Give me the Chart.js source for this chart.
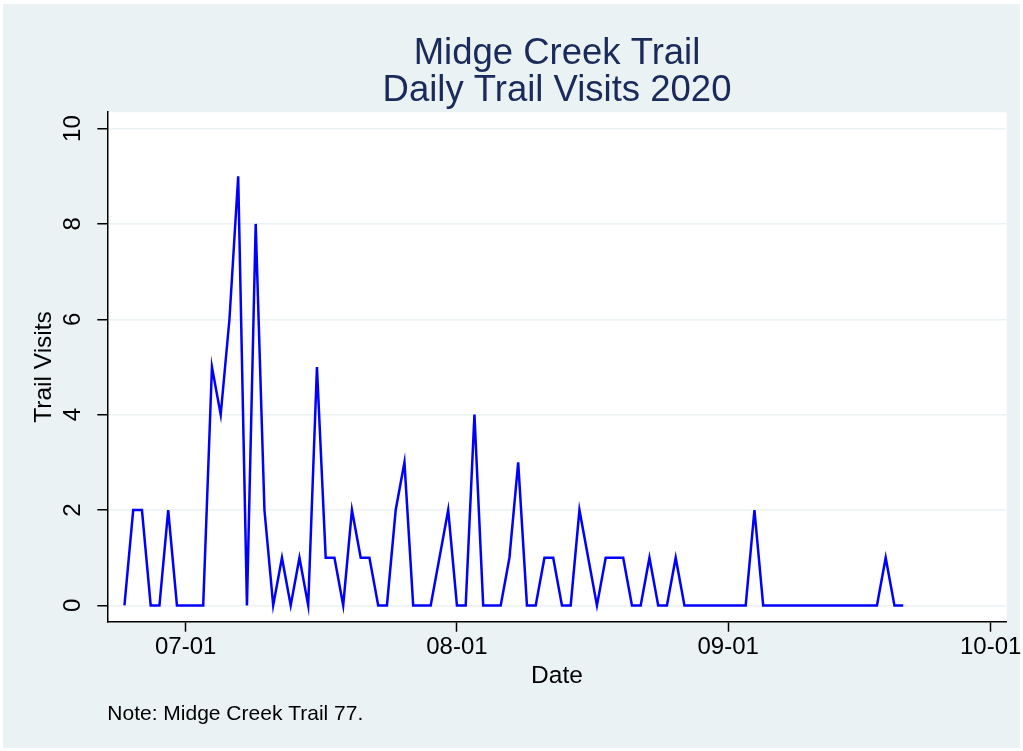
<!DOCTYPE html>
<html>
<head>
<meta charset="utf-8">
<title>Midge Creek Trail - Daily Trail Visits 2020</title>
<script src="https://cdn.jsdelivr.net/npm/chart.js@4"></script>
<style>
  html, body { margin: 0; padding: 0; background: #fff; }
  #frame { position: absolute; left: 3px; top: 4px; width: 1017px; height: 744px; background: #eaf2f3; }
  #wrap { position: absolute; left: 0; top: 0; width: 1023px; height: 751px; }
</style>
</head>
<body>
<div id="frame"></div>
<div id="wrap"><canvas id="chart" width="1023" height="751"></canvas></div>
<script>
// days are counted from 07-01 (= 0); first reading is 06-24
const firstDay = -7;
const visits = [
  // Jun 24 - Jun 30
  0, 2, 2, 0, 0, 2, 0,
  // Jul 1 - Jul 31
  0, 0, 0, 5, 4, 6, 9, 0, 8, 2, 0, 1, 0, 1, 0, 5, 1, 1, 0, 2, 1, 1, 0, 0, 2, 3, 0, 0, 0, 1, 2,
  // Aug 1 - Aug 31
  0, 0, 4, 0, 0, 0, 1, 3, 0, 0, 1, 1, 0, 0, 2, 1, 0, 1, 1, 1, 0, 0, 1, 0, 0, 1, 0, 0, 0, 0, 0,
  // Sep 1 - Sep 21
  0, 0, 0, 2, 0, 0, 0, 0, 0, 0, 0, 0, 0, 0, 0, 0, 0, 0, 1, 0, 0
];
const xTickDays = [0, 31, 62, 92];
const xTickLabels = ['07-01', '08-01', '09-01', '10-01'];
const yTicks = [0, 2, 4, 6, 8, 10];

const points = visits.map((v, i) => ({ x: firstDay + i, y: v }));

const fontFamily = '"Liberation Sans", Arial, sans-serif';

// white plot region like Stata's s2color scheme
const plotBg = {
  id: 'plotBg',
  beforeDraw(chart) {
    const { ctx, chartArea: a } = chart;
    ctx.save();
    ctx.fillStyle = '#ffffff';
    ctx.fillRect(a.left, a.top, a.right - a.left, a.bottom - a.top);
    ctx.restore();
  }
};

const config = {
  type: 'line',
  data: {
    datasets: [{
      label: 'Trail Visits',
      data: points,
      borderColor: '#0000ff',
      backgroundColor: '#0000ff',
      borderWidth: 2.5,
      pointRadius: 0,
      tension: 0,
      fill: false
    }]
  },
  options: {
    responsive: false,
    animation: false,
    devicePixelRatio: 1,
    layout: { padding: { left: 0, right: 16.3, top: 0, bottom: 0 } },
    plugins: {
      legend: { display: false },
      tooltip: { enabled: false },
      title: {
        display: true,
        fullSize: false,
        text: ['Midge Creek Trail', 'Daily Trail Visits 2020'],
        color: '#1a2a5a',
        font: { family: fontFamily, size: 36.5, weight: 'normal', lineHeight: 1.01 },
        padding: { top: 36, bottom: 2.5 }
      },
      subtitle: {
        display: true,
        position: 'bottom',
        align: 'start',
        fullSize: false,
        text: 'Note: Midge Creek Trail 77.',
        color: '#000',
        font: { family: fontFamily, size: 21, weight: 'normal', lineHeight: 1.2 },
        padding: { top: 0, bottom: 24.5 }
      }
    },
    scales: {
      x: {
        type: 'linear',
        min: -8.96,
        max: 93.83,
        afterBuildTicks: (scale) => { scale.ticks = xTickDays.map(v => ({ value: v })); },
        afterFit: (scale) => { scale.height = 79.6; },
        ticks: {
          autoSkip: false,
          maxRotation: 0,
          padding: 1,
          color: '#000',
          font: { family: fontFamily, size: 24 },
          callback: (value) => xTickLabels[xTickDays.indexOf(value)]
        },
        grid: { drawOnChartArea: false, drawTicks: true, tickLength: 10, tickColor: '#000', tickWidth: 1.5 },
        border: { display: true, color: '#000', width: 1.5 },
        title: {
          display: true,
          text: 'Date',
          color: '#000',
          font: { family: fontFamily, size: 24.5 },
          padding: { top: 0, bottom: 10 }
        }
      },
      y: {
        type: 'linear',
        min: -0.342,
        max: 10.342,
        afterBuildTicks: (scale) => { scale.ticks = yTicks.map(v => ({ value: v })); },
        afterFit: (scale) => { scale.width = 107.3; },
        ticks: {
          minRotation: 90,
          maxRotation: 90,
          crossAlign: 'center',
          padding: 10.5,
          color: '#000',
          font: { family: fontFamily, size: 24 }
        },
        grid: { color: '#eaf2f3', lineWidth: 1.5, drawTicks: true, tickLength: 10, tickColor: '#000', tickWidth: 1.5 },
        border: { display: true, color: '#000', width: 1.5 },
        title: {
          display: true,
          text: 'Trail Visits',
          color: '#000',
          font: { family: fontFamily, size: 24.5 },
          padding: { top: 29.5 }
        }
      }
    }
  },
  plugins: [plotBg]
};

const myChart = new Chart(document.getElementById('chart'), config);
</script>
</body>
</html>
